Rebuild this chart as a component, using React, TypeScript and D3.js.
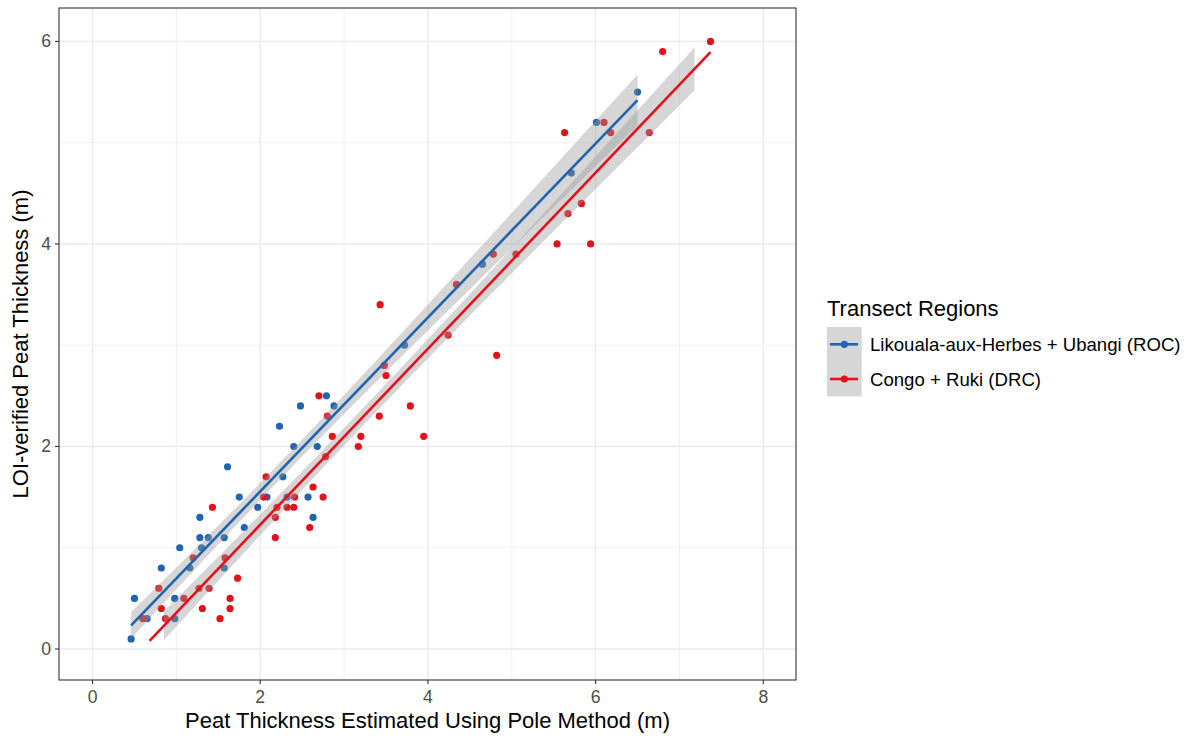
import React from "react";
import * as d3 from "d3";

// ---- Data ----
const rocX = [0.46, 0.50, 0.65, 0.82, 0.98, 0.98, 1.04, 1.16, 1.28, 1.28, 1.38, 1.57, 1.30, 1.57, 1.61, 1.75, 1.81, 1.97, 2.08, 2.27, 2.40, 2.23, 2.32, 2.57, 2.63, 2.68, 2.48, 2.79, 2.88, 3.72, 4.65, 5.71, 6.01, 6.50];
const rocY = [0.1, 0.5, 0.3, 0.8, 0.5, 0.3, 1.0, 0.8, 1.3, 1.1, 1.1, 1.1, 1.0, 0.8, 1.8, 1.5, 1.2, 1.4, 1.5, 1.7, 2.0, 2.2, 1.5, 1.5, 1.3, 2.0, 2.4, 2.5, 2.4, 3.0, 3.8, 4.7, 5.2, 5.5];

const drcX = [0.60, 0.79, 0.82, 0.87, 1.09, 1.27, 1.39, 1.31, 1.52, 1.64, 1.64, 1.73, 1.20, 1.58, 1.43, 2.04, 2.07, 2.18, 2.18, 2.20, 2.32, 2.40, 2.41, 2.59, 2.63, 2.75, 2.70, 2.80, 2.78, 2.86, 3.20, 3.17, 3.42, 3.43, 3.48, 3.50, 3.79, 3.95, 4.24, 4.34, 4.78, 4.82, 5.05, 5.54, 5.94, 5.67, 5.83, 5.63, 6.10, 6.18, 6.64, 6.80, 7.37];
const drcY = [0.3, 0.6, 0.4, 0.3, 0.5, 0.6, 0.6, 0.4, 0.3, 0.5, 0.4, 0.7, 0.9, 0.9, 1.4, 1.5, 1.7, 1.3, 1.1, 1.4, 1.4, 1.4, 1.5, 1.2, 1.6, 1.5, 2.5, 2.3, 1.9, 2.1, 2.1, 2.0, 2.3, 3.4, 2.8, 2.7, 2.4, 2.1, 3.1, 3.6, 3.9, 2.9, 3.9, 4.0, 4.0, 4.3, 4.4, 5.1, 5.2, 5.1, 5.1, 5.9, 6.0];

// extents of fitted line / confidence band
const rocLineRange = [0.46, 6.50];
const rocBandRange = [0.46, 6.50];
const drcLineRange = [0.68, 7.37];
const drcBandRange = [0.85, 7.18];
// normal quantile used for the band (band is narrower than a 95% interval in the reference)
const bandZ = 1.65;

const seriesNames = ["Likouala-aux-Herbes + Ubangi (ROC)", "Congo + Ruki (DRC)"];
const seriesColors = ["#1f64ad", "#e3111b"];
const xTicks = [0, 2, 4, 6, 8];
const yTicks = [0, 2, 4, 6];
const xMinor = [1, 3, 5, 7];
const yMinor = [1, 3, 5];

const W = 1190, H = 736;
const P = { l: 59, r: 796, t: 8, b: 680 };
const FONT = "'Liberation Sans', Arial, sans-serif";

function fitLm(xs: number[], ys: number[]) {
  const n = xs.length;
  const mx = d3.mean(xs)!, my = d3.mean(ys)!;
  let sxx = 0, sxy = 0;
  for (let i = 0; i < n; i++) { sxx += (xs[i] - mx) ** 2; sxy += (xs[i] - mx) * (ys[i] - my); }
  const b = sxy / sxx, a = my - b * mx;
  let sse = 0;
  for (let i = 0; i < n; i++) sse += (ys[i] - a - b * xs[i]) ** 2;
  const s = Math.sqrt(sse / (n - 2));
  const se = (x: number) => s * Math.sqrt(1 / n + (x - mx) ** 2 / sxx);
  return { a, b, t: bandZ, se };
}

export default function App() {
  const x = d3.scaleLinear().domain([-0.4, 8.39]).range([P.l, P.r]);
  const y = d3.scaleLinear().domain([-0.306, 6.33]).range([P.b, P.t]);

  const groups = [
    { xs: rocX, ys: rocY, lr: rocLineRange, br: rocBandRange, color: seriesColors[0] },
    { xs: drcX, ys: drcY, lr: drcLineRange, br: drcBandRange, color: seriesColors[1] },
  ].map((g) => {
    const m = fitLm(g.xs, g.ys);
    const bandXs = d3.range(0, 81).map((i) => g.br[0] + (g.br[1] - g.br[0]) * i / 80);
    const band = d3.area<number>()
      .x((v) => x(v))
      .y0((v) => y(m.a + m.b * v - m.t * m.se(v)))
      .y1((v) => y(m.a + m.b * v + m.t * m.se(v)))(bandXs)!;
    const line = d3.line<number>().x((v) => x(v)).y((v) => y(m.a + m.b * v))(g.lr)!;
    return { ...g, band, line };
  });

  return (
    <svg width={W} height={H} style={{ position: "absolute", left: 0, top: 0, background: "#fff" }} fontFamily={FONT}>
      <rect x={0} y={0} width={W} height={H} fill="#fff" />
      {/* grid */}
      {xMinor.map((v) => <line key={"xm" + v} x1={x(v)} x2={x(v)} y1={P.t} y2={P.b} stroke="#ebebeb" strokeWidth={0.7} />)}
      {yMinor.map((v) => <line key={"ym" + v} y1={y(v)} y2={y(v)} x1={P.l} x2={P.r} stroke="#ebebeb" strokeWidth={0.7} />)}
      {xTicks.map((v) => <line key={"xg" + v} x1={x(v)} x2={x(v)} y1={P.t} y2={P.b} stroke="#ebebeb" strokeWidth={1.4} />)}
      {yTicks.map((v) => <line key={"yg" + v} y1={y(v)} y2={y(v)} x1={P.l} x2={P.r} stroke="#ebebeb" strokeWidth={1.4} />)}

      {/* points */}
      {groups.map((g, gi) => g.xs.map((v, i) => (
        <circle key={gi + "-" + i} cx={x(v)} cy={y(g.ys[i])} r={3.6} fill={g.color} />
      )))}
      {/* ribbons */}
      {groups.map((g, gi) => <path key={"b" + gi} d={g.band} fill="#999999" fillOpacity={0.4} />)}
      {/* lines */}
      {groups.map((g, gi) => <path key={"l" + gi} d={g.line} fill="none" stroke={g.color} strokeWidth={2.6} />)}

      {/* panel border */}
      <rect x={P.l} y={P.t} width={P.r - P.l} height={P.b - P.t} fill="none" stroke="#333333" strokeWidth={1.1} />

      {/* axes */}
      {xTicks.map((v) => (
        <g key={"xt" + v}>
          <line x1={x(v)} x2={x(v)} y1={P.b} y2={P.b + 4} stroke="#333333" strokeWidth={1.1} />
          <text x={x(v)} y={P.b + 23} textAnchor="middle" fontSize={17.6} fill="#4d4d4d">{v}</text>
        </g>
      ))}
      {yTicks.map((v) => (
        <g key={"yt" + v}>
          <line x1={P.l - 4} x2={P.l} y1={y(v)} y2={y(v)} stroke="#333333" strokeWidth={1.1} />
          <text x={P.l - 8} y={y(v) + 6} textAnchor="end" fontSize={17.6} fill="#4d4d4d">{v}</text>
        </g>
      ))}
      <text x={(P.l + P.r) / 2} y={728} textAnchor="middle" fontSize={22} fill="#000">Peat Thickness Estimated Using Pole Method (m)</text>
      <text transform={`translate(28,${(P.t + P.b) / 2}) rotate(-90)`} textAnchor="middle" fontSize={22} fill="#000">LOI-verified Peat Thickness (m)</text>

      {/* legend */}
      <text x={827} y={316} fontSize={22} fill="#000">Transect Regions</text>
      {groups.map((g, gi) => {
        const cy = 344.3 + gi * 34.7;
        return (
          <g key={"lg" + gi}>
            <rect x={827} y={cy - 17.35} width={34.7} height={34.7} fill="#999999" fillOpacity={0.4} />
            <line x1={830} x2={858} y1={cy} y2={cy} stroke={g.color} strokeWidth={2.6} />
            <circle cx={844.3} cy={cy} r={3.6} fill={g.color} />
            <text x={870} y={cy + 6.5} fontSize={18.6} fill="#000">{seriesNames[gi]}</text>
          </g>
        );
      })}
    </svg>
  );
}
